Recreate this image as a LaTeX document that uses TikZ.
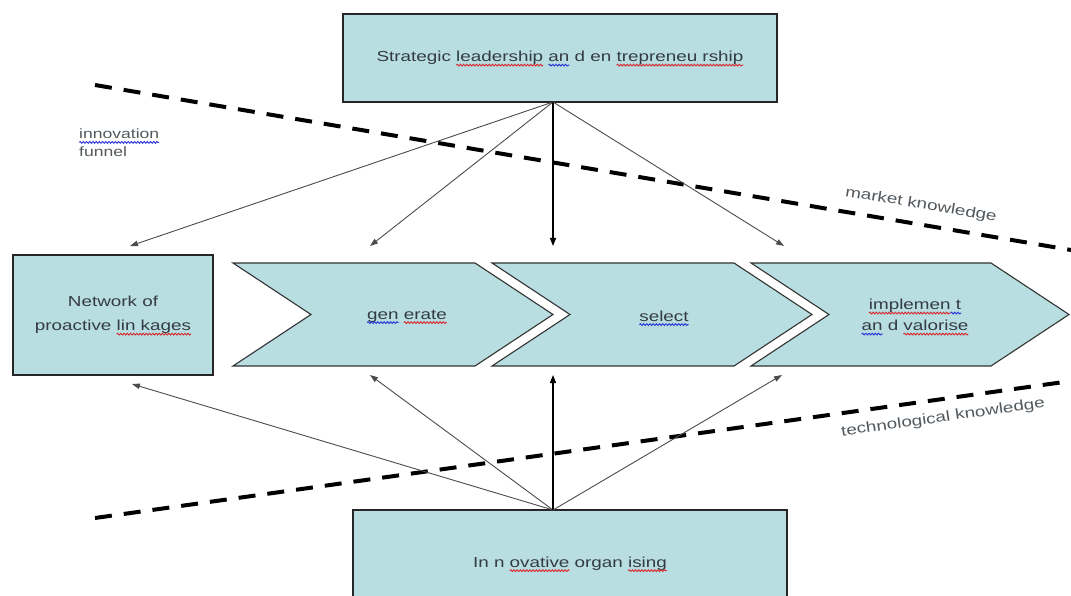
\documentclass[tikz,border=0pt]{standalone}
\usepackage{fontspec}
\setmainfont{Liberation Sans}[FakeStretch=1.3]
\usetikzlibrary{arrows.meta,decorations.pathmorphing}

\definecolor{boxfill}{RGB}{184,222,226}
\definecolor{ink}{RGB}{52,60,66}
\definecolor{wavered}{RGB}{215,40,45}
\definecolor{waveblue}{RGB}{40,50,215}

% spell-check style wavy underline below a word
\newlength\wavelen
\newcommand\wavy[2]{\settowidth\wavelen{#2}%
  #2\llap{\tikz[baseline=0pt,x=1pt,y=1pt]{%
    \useasboundingbox (0,0) rectangle (\wavelen,0);
    \draw[#1, line width=0.9pt, decorate,
      decoration={snake,amplitude=0.9pt,segment length=3.2pt}]
      (0,-3.4) -- (\wavelen,-3.4);}}}
\newcommand\redwave[1]{\wavy{wavered}{#1}}
\newcommand\bluewave[1]{\wavy{waveblue}{#1}}

\tikzset{
  box/.style={draw=black!85, line width=1.4pt, fill=boxfill, text=ink,
    align=center, font=\fontsize{14.5}{24}\selectfont, inner sep=0pt},
  stage/.style={draw=black!80, line width=1.1pt, fill=boxfill, line join=miter},
  label/.style={text=ink, align=center, font=\fontsize{14.5}{21}\selectfont},
  note/.style={text=ink!85, font=\fontsize{13.5}{18}\selectfont},
  side note/.style={text=ink!85, font=\fontsize{14.5}{18}\selectfont},
  funnel/.style={line width=4pt, dash pattern=on 17pt off 12pt, black},
  thin arrow/.style={draw=black!70, line width=0.9pt,
    -{Triangle[length=8pt,width=5.5pt]}},
  main arrow/.style={draw=black, line width=1.4pt,
    -{Triangle[length=8pt,width=6pt]}},
}

\begin{document}
\begin{tikzpicture}[x=1pt, y=-1pt]
\useasboundingbox (0,0) rectangle (1071,596);
\fill[white] (0,0) rectangle (1071,596);

% funnel borders
\draw[funnel] (95,85) -- (1071,250);
\draw[funnel] (95,518) -- (1071,381);

% leadership and organising boxes
\node[box, minimum width=434pt, minimum height=88pt] (lead) at (560,58)
  {\raisebox{-3pt}{Strategic \redwave{leadership} \bluewave{an} d en \redwave{trepreneu rship}}};
\node[box, minimum width=434pt, minimum height=112pt] (org) at (570,566)
  {\raisebox{8pt}{In n \redwave{ovative} organ \redwave{ising}}};
\node[box, minimum width=200pt, minimum height=120pt] (net) at (113,315)
  {Network of\\proactive \redwave{lin kages}};

% process stages
\draw[stage] (233,263) -- (475,263) -- (553,314.5) -- (475,366) -- (233,366) -- (311,314.5) -- cycle;
\draw[stage] (492,263) -- (734,263) -- (812,314.5) -- (734,366) -- (492,366) -- (570,314.5) -- cycle;
\draw[stage] (751,263) -- (991,263) -- (1069,314.5) -- (991,366) -- (751,366) -- (829,314.5) -- cycle;

\node[label] (gen) at (407,316) {\bluewave{gen} \redwave{erate}};
\node[label] (sel) at (664,316) {\bluewave{select}};
\node[label] (impl) at (915,315) {\redwave{implemen}\bluewave{ t}\\\bluewave{an} d \redwave{valorise}};

% free labels
\node[note, anchor=north west, align=left, inner sep=0pt] (funnel) at (79,129)
  {\bluewave{innovation}\\funnel};
\node[side note, rotate=-9.5] (market) at (921,205) {market knowledge};
\node[side note, rotate=8] (tech) at (943,418) {technological knowledge};

% arrow anchors
\coordinate (ltop) at (553,102);
\coordinate (lbot) at (553,510);
\coordinate (t1) at (130,246);
\coordinate (t2) at (370,246);
\coordinate (t3) at (553,246);
\coordinate (t4) at (784,246);
\coordinate (b1) at (132,384);
\coordinate (b2) at (370,375);
\coordinate (b3) at (553,375);
\coordinate (b4) at (782,375);

\draw[thin arrow] (ltop) -- (t1);
\draw[thin arrow] (ltop) -- (t2);
\draw[main arrow] (ltop) -- (t3);
\draw[thin arrow] (ltop) -- (t4);

\draw[thin arrow] (lbot) -- (b1);
\draw[thin arrow] (lbot) -- (b2);
\draw[main arrow] (lbot) -- (b3);
\draw[thin arrow] (lbot) -- (b4);
\end{tikzpicture}
\end{document}
